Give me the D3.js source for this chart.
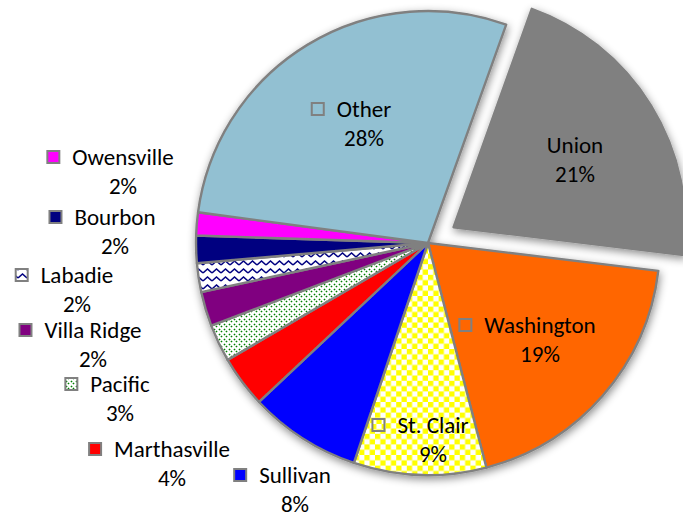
<!DOCTYPE html>
<html>
<head>
<meta charset="utf-8">
<script src="https://cdn.jsdelivr.net/npm/d3@7"></script>
<style>
  body { margin: 0; background: #fff; }
  text { font-family: Carlito, Calibri, Lato, sans-serif; font-size: 23px; fill: #000; }
</style>
</head>
<body>
<svg width="683" height="519"></svg>
<script>
// slice data, clockwise starting from Union
const names = ["Union", "Washington", "St. Clair", "Sullivan", "Marthasville", "Pacific",
               "Villa Ridge", "Labadie", "Bourbon", "Owensville", "Other"];
const values = [21.4, 19.0, 9.2, 7.8, 3.6, 2.6, 2.4, 2.0, 1.9, 1.6, 28.3];
const exploded = ["Union"];

// styles
const fills = ["#808080", "#ff6600", "url(#checker)", "#0000ff", "#ff0000", "url(#dotdiag)",
               "#800080", "url(#zigzag)", "#000080", "#ff00ff", "#92c0d2"];
// label anchors (centre x, first baseline)
const labelPos = [[575, 153], [540, 333], [433, 433], [295, 483], [172, 457], [120, 392],
                  [93, 338], [77, 283], [115, 225], [123, 165], [364, 117]];
const noMarker = ["Union"];

const cx = 428, cy = 243, radius = 232, explode = 30;
const startAngle = 19.7 * Math.PI / 180;

const svg = d3.select("svg");
const defs = svg.append("defs");

// yellow checkerboard
const chk = defs.append("pattern").attr("id", "checker")
    .attr("patternUnits", "userSpaceOnUse").attr("width", 10.6).attr("height", 10.6);
chk.append("rect").attr("width", 10.6).attr("height", 10.6).attr("fill", "#fff");
chk.append("rect").attr("width", 5.3).attr("height", 5.3).attr("fill", "#ffff00");
chk.append("rect").attr("x", 5.3).attr("y", 5.3).attr("width", 5.3).attr("height", 5.3).attr("fill", "#ffff00");

// green dotted diagonal
const dd = defs.append("pattern").attr("id", "dotdiag")
    .attr("patternUnits", "userSpaceOnUse").attr("width", 5).attr("height", 5);
dd.append("rect").attr("width", 5).attr("height", 5).attr("fill", "#fff");
dd.append("path").attr("d", "M-1,-1L6,6")
    .attr("stroke", "#008000").attr("stroke-width", 1.6).attr("stroke-dasharray", "1.5,1.3");

// navy zigzag
const zz = defs.append("pattern").attr("id", "zigzag")
    .attr("patternUnits", "userSpaceOnUse").attr("width", 9).attr("height", 8);
zz.append("rect").attr("width", 9).attr("height", 8).attr("fill", "#fff");
zz.append("path").attr("d", "M0,6L4.5,2L9,6")
    .attr("fill", "none").attr("stroke", "#000080").attr("stroke-width", 1.6);

const shadow = defs.append("filter").attr("id", "shadow")
    .attr("x", "-20%").attr("y", "-20%").attr("width", "140%").attr("height", "140%");
shadow.append("feDropShadow").attr("dx", 1).attr("dy", 3).attr("stdDeviation", 4)
    .attr("flood-color", "#000").attr("flood-opacity", 0.45);

const pie = d3.pie().sort(null).value(d => d)
    .startAngle(startAngle).endAngle(startAngle + 2 * Math.PI);
const arcs = pie(values);
const arc = d3.arc().innerRadius(0).outerRadius(radius);

const total = d3.sum(values);
const fmt = d3.format(".0%");

const g = svg.append("g").attr("transform", `translate(${cx},${cy})`)
    .attr("filter", "url(#shadow)");

g.selectAll("path.slice")
  .data(arcs)
  .join("path")
    .attr("class", "slice")
    .attr("d", arc)
    .attr("fill", (d, i) => fills[i])
    .attr("stroke", "#808080")
    .attr("stroke-width", 2.4)
    .attr("stroke-linejoin", "round")
    .attr("transform", (d, i) => {
      if (!exploded.includes(names[i])) return null;
      const a = (d.startAngle + d.endAngle) / 2;
      return `translate(${explode * Math.sin(a)},${-explode * Math.cos(a)})`;
    });

// data labels
const lab = svg.selectAll("g.label")
  .data(arcs)
  .join("g")
    .attr("class", "label");

lab.append("text")
    .attr("class", "name")
    .attr("x", (d, i) => labelPos[i][0])
    .attr("y", (d, i) => labelPos[i][1])
    .attr("text-anchor", "middle")
    .text((d, i) => names[i]);

lab.append("text")
    .attr("x", (d, i) => labelPos[i][0])
    .attr("y", (d, i) => labelPos[i][1] + 29)
    .attr("text-anchor", "middle")
    .text(d => fmt(d.value / total));

lab.each(function(d, i) {
  if (noMarker.includes(names[i])) return;
  const t = d3.select(this).select("text.name");
  const w = t.node().getComputedTextLength();
  const left = labelPos[i][0] - w / 2;
  d3.select(this).append("rect")
      .attr("x", left - 12 - 13)
      .attr("y", labelPos[i][1] - 14)
      .attr("width", 12)
      .attr("height", 12)
      .attr("fill", fills[i])
      .attr("stroke", "#808080")
      .attr("stroke-width", 2);
});
</script>
</body>
</html>
